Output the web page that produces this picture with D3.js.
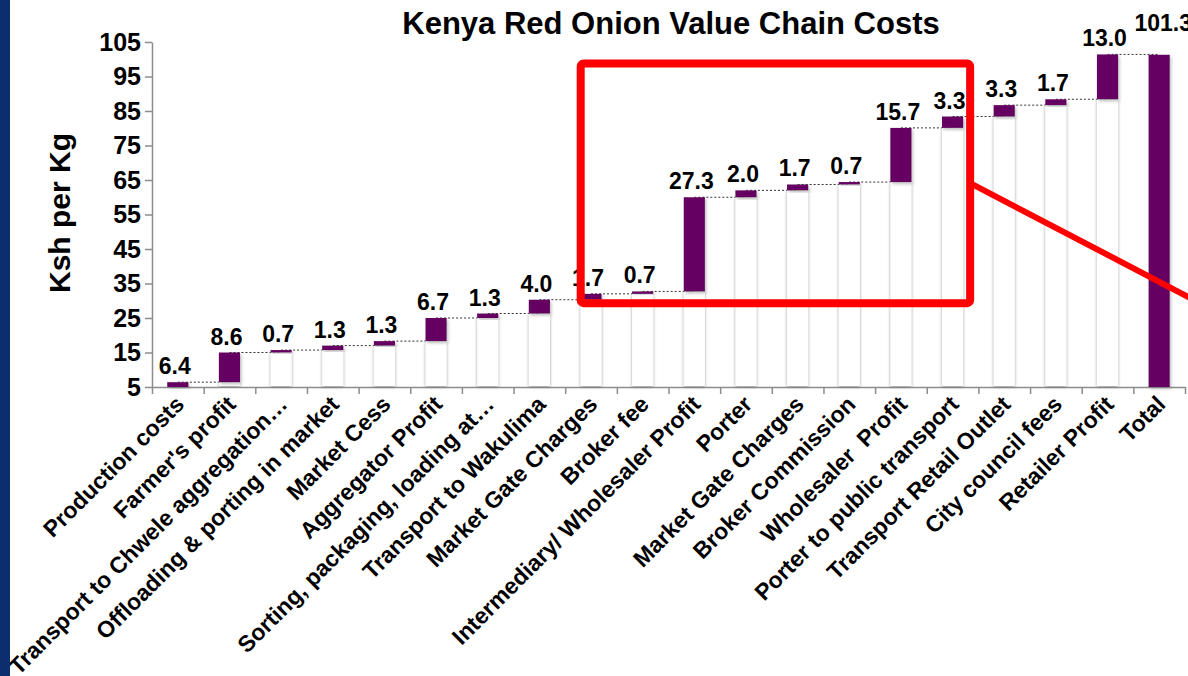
<!DOCTYPE html>
<html>
<head>
<meta charset="utf-8">
<script src="https://cdn.jsdelivr.net/npm/d3@7"></script>
<style>
  html, body { margin: 0; padding: 0; background: #fff; }
  svg { display: block; font-family: "Liberation Sans", Arial, sans-serif; }
</style>
</head>
<body>
<div id="chart"></div>
<script>
// categories along the value chain
const categories = [
  'Production costs', "Farmer's profit", 'Transport to Chwele aggregation…',
  'Offloading & porting in market', 'Market Cess', 'Aggregator Profit',
  'Sorting, packaging, loading at…', 'Transport to Wakulima', 'Market Gate Charges',
  'Broker fee', 'Intermediary/ Wholesaler Profit', 'Porter', 'Market Gate Charges',
  'Broker Commission', 'Wholesaler  Profit', 'Porter to public transport',
  'Transport Retail Outlet', 'City council fees', 'Retailer Profit', 'Total'
];
// cost added at each step (Ksh per Kg)
const stepValues = [6.4, 8.6, 0.7, 1.3, 1.3, 6.7, 1.3, 4.0, 1.7, 0.7, 27.3, 2.0, 1.7, 0.7, 15.7, 3.3, 3.3, 1.7, 13.0];
const totalValue = 101.3;
const yTicks = [5, 15, 25, 35, 45, 55, 65, 75, 85, 95, 105];
// highlight box (band index / value units)
const highlightBox = { i0: 8.3, i1: 15.84, v0: 29.3, v1: 98.8 };
const highlightLine = [[15.84, 64.1], [20.5, 27.7]];

let cfg = {
  width: 1188,
  height: 676,
  purple: '#650062',
  axisColor: '#8c8c8c',
  red: '#ff0000',
  navy: '#0b2e6f'
};

// build waterfall rows
let run = 0;
let rows = stepValues.map((v, i) => {
  let r = { i: i, base: run, top: run + v, value: v, total: false };
  run += v;
  return r;
});
rows.push({ i: stepValues.length, base: 0, top: totalValue, value: totalValue, total: true });

let svg = d3.select('#chart').append('svg')
  .attr('width', cfg.width)
  .attr('height', cfg.height);

let defs = svg.append('defs');
let fWhite = defs.append('filter').attr('id', 'shadeWhite')
  .attr('x', '-50%').attr('y', '-10%').attr('width', '200%').attr('height', '120%');
fWhite.append('feDropShadow').attr('dx', 0).attr('dy', 1).attr('stdDeviation', 1.5)
  .attr('flood-color', '#777').attr('flood-opacity', 0.75);
let fPurple = defs.append('filter').attr('id', 'shadePurple')
  .attr('x', '-30%').attr('y', '-30%').attr('width', '160%').attr('height', '160%');
fPurple.append('feDropShadow').attr('dx', 1.5).attr('dy', 2).attr('stdDeviation', 1.6)
  .attr('flood-color', '#777').attr('flood-opacity', 0.45);

let x = d3.scaleBand()
  .domain(d3.range(categories.length))
  .range([152, 1185])
  .paddingInner(0.59)
  .paddingOuter(0.295);
let xi = d3.scaleLinear().domain([0, categories.length]).range([152, 1185]);
let y = d3.scaleLinear().domain([5, 105]).range([387, 42]).clamp(true);
let cx = i => x(i) + x.bandwidth() / 2;

// title
svg.append('text')
  .attr('x', 671).attr('y', 34)
  .attr('text-anchor', 'middle')
  .attr('font-size', 31).attr('font-weight', 'bold')
  .text('Kenya Red Onion Value Chain Costs');

// y axis
let gy = svg.append('g').attr('transform', 'translate(152,0)')
  .call(d3.axisLeft(y).tickValues(yTicks).tickSize(7).tickPadding(4).tickSizeOuter(0));
gy.select('.domain').attr('stroke', cfg.axisColor).attr('stroke-width', 1.5);
gy.selectAll('.tick line').attr('stroke', cfg.axisColor).attr('stroke-width', 1.5);
gy.selectAll('.tick text').attr('font-size', 25).attr('font-weight', 'bold')
  .attr('fill', '#000').attr('font-family', '"Liberation Sans", Arial, sans-serif');

svg.append('text')
  .attr('transform', 'translate(70,213) rotate(-90)')
  .attr('text-anchor', 'middle')
  .attr('font-size', 30).attr('font-weight', 'bold')
  .text('Ksh per Kg');

// x axis with ticks between categories
let gx = svg.append('g').attr('transform', 'translate(0,387)')
  .call(d3.axisBottom(xi).tickValues(d3.range(categories.length + 1)).tickFormat('').tickSize(7).tickSizeOuter(0));
gx.select('.domain').attr('stroke', cfg.axisColor).attr('stroke-width', 1.5);
gx.selectAll('.tick line').attr('stroke', cfg.axisColor).attr('stroke-width', 1.5);

svg.append('g').selectAll('text').data(categories).enter()
  .append('text')
  .attr('transform', (d, i) => `translate(${cx(i) + 2},400) rotate(-45)`)
  .attr('text-anchor', 'end')
  .attr('dy', '0.35em')
  .attr('font-size', 23).attr('font-weight', 'bold')
  .style('white-space', 'pre')
  .text(d => d);

// connectors
svg.append('g').selectAll('line').data(rows.slice(0, -1)).enter()
  .append('line')
  .attr('x1', d => cx(d.i)).attr('x2', d => cx(d.i + 1))
  .attr('y1', d => y(d.top)).attr('y2', d => y(d.top))
  .attr('stroke', '#333').attr('stroke-width', 1)
  .attr('stroke-dasharray', '2,2');

// invisible base bars (white with soft edge)
svg.append('g').selectAll('rect').data(rows.filter(d => d.base > 5)).enter()
  .append('rect')
  .attr('x', d => x(d.i)).attr('width', x.bandwidth())
  .attr('y', d => y(d.base)).attr('height', d => y(5) - y(d.base) - 1)
  .attr('fill', '#fff').attr('filter', 'url(#shadeWhite)');

// value bars
svg.append('g').selectAll('rect').data(rows).enter()
  .append('rect')
  .attr('x', d => x(d.i)).attr('width', x.bandwidth())
  .attr('y', d => y(d.top)).attr('height', d => y(d.base) - y(d.top))
  .attr('fill', cfg.purple).attr('filter', 'url(#shadePurple)');

// value labels (total sits higher, clear of the 13.0 label)
svg.append('g').selectAll('text').data(rows).enter()
  .append('text')
  .attr('x', d => cx(d.i) - (d.total ? -4 : 3)).attr('y', d => y(d.top) - (d.total ? 24 : 8))
  .attr('text-anchor', 'middle')
  .attr('font-size', 23).attr('font-weight', 'bold')
  .text(d => d.value.toFixed(1));

// highlight annotation
svg.append('rect')
  .attr('x', xi(highlightBox.i0)).attr('y', y(highlightBox.v1))
  .attr('width', xi(highlightBox.i1) - xi(highlightBox.i0))
  .attr('height', y(highlightBox.v0) - y(highlightBox.v1))
  .attr('rx', 3)
  .attr('fill', 'none').attr('stroke', cfg.red).attr('stroke-width', 8);
svg.append('line')
  .attr('x1', xi(highlightLine[0][0])).attr('y1', y(highlightLine[0][1]))
  .attr('x2', xi(highlightLine[1][0])).attr('y2', y(highlightLine[1][1]))
  .attr('stroke', cfg.red).attr('stroke-width', 6);

// slide edge
svg.append('rect').attr('x', 0).attr('y', 0).attr('width', 10).attr('height', cfg.height)
  .attr('fill', cfg.navy);
</script>
</body>
</html>
